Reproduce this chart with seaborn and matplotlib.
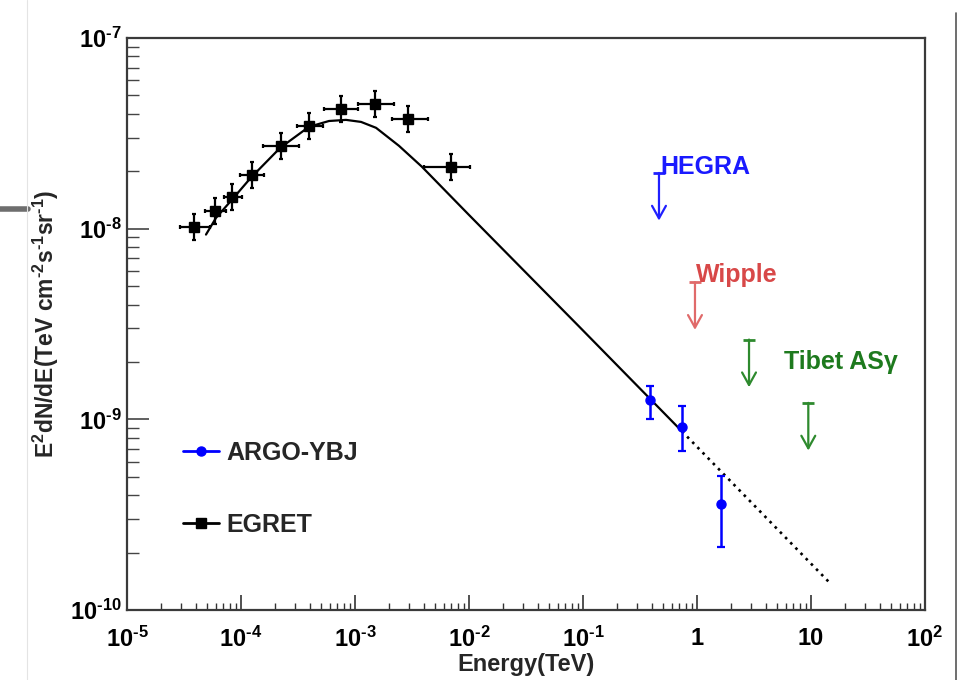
import numpy as np
import pandas as pd
import matplotlib
matplotlib.use("Agg")
import matplotlib.pyplot as plt
from matplotlib.lines import Line2D
from matplotlib.ticker import LogLocator, FixedFormatter, FixedLocator, NullFormatter
import seaborn as sns

# ---------------- data ----------------
egret_x = [3.9e-5, 5.9e-5, 8.3e-5, 1.25e-4, 2.24e-4, 3.95e-4, 7.5e-4, 1.5e-3, 2.9e-3, 6.9e-3]
egret_y = [1.02e-8, 1.24e-8, 1.47e-8, 1.92e-8, 2.72e-8, 3.46e-8, 4.25e-8, 4.5e-8, 3.77e-8, 2.11e-8]
egret_xlo = [2.92e-5, 4.79e-5, 7.1e-5, 9.8e-5, 1.56e-4, 3.10e-4, 5.35e-4, 1.06e-3, 2.11e-3, 4.03e-3]
egret_xhi = [5.35e-5, 7.46e-5, 1.02e-4, 1.59e-4, 3.23e-4, 5.24e-4, 1.06e-3, 2.20e-3, 4.37e-3, 1.02e-2]
egret_ylo = [8.7e-9, 1.06e-8, 1.26e-8, 1.64e-8, 2.32e-8, 2.96e-8, 3.63e-8, 3.85e-8, 3.22e-8, 1.80e-8]
egret_yhi = [1.19e-8, 1.45e-8, 1.72e-8, 2.25e-8, 3.18e-8, 4.05e-8, 4.97e-8, 5.27e-8, 4.41e-8, 2.47e-8]

argo_x = [0.387, 0.743, 1.62]
argo_y = [1.26e-9, 9.16e-10, 3.59e-10]
argo_ylo = [1.01e-9, 6.82e-10, 2.13e-10]
argo_yhi = [1.49e-9, 1.18e-9, 5.05e-10]

# upper limits
hegra_x, hegra_y = [0.464], [1.96e-8]
wipple_x, wipple_y = [0.96], [5.24e-9]
tibet_x, tibet_y = [2.86, 9.47], [2.62e-9, 1.22e-9]

# model curve (solid part, then dotted extrapolation)
model_x = [4.93e-5, 6.04e-5, 8.34e-5, 1.22e-4, 2.20e-4, 3.94e-4, 5.91e-4, 8.34e-4,
           1.13e-3, 1.53e-3, 2.43e-3, 3.87e-3, 1.0e-2, 9.23e-2, 0.738]
model_y = [9.31e-9, 1.14e-8, 1.42e-8, 1.85e-8, 2.65e-8, 3.42e-8, 3.67e-8, 3.72e-8,
           3.63e-8, 3.38e-8, 2.72e-8, 2.11e-8, 1.18e-8, 3.07e-9, 8.65e-10]
extrap_x = [0.738, 14.4]
extrap_y = [8.65e-10, 1.40e-10]

HY = "\u2010"
xtick_vals = [1e-5, 1e-4, 1e-3, 1e-2, 1e-1, 1, 10, 100]
xtick_labels = ["10$^{%s5}$" % HY, "10$^{%s4}$" % HY, "10$^{%s3}$" % HY, "10$^{%s2}$" % HY,
                "10$^{%s1}$" % HY, "1", "10", "10$^{2}$"]
ytick_vals = [1e-10, 1e-9, 1e-8, 1e-7]
ytick_labels = ["10$^{%s10}$" % HY, "10$^{%s9}$" % HY, "10$^{%s8}$" % HY, "10$^{%s7}$" % HY]

# ---------------- style ----------------
sns.set_theme(style="white")
plt.rcParams['font.family'] = ['Liberation Sans', 'DejaVu Sans']
plt.rcParams['font.weight'] = 'bold'
plt.rcParams['mathtext.fontset'] = 'custom'
plt.rcParams['mathtext.rm'] = 'Liberation Sans:bold'
plt.rcParams['mathtext.bf'] = 'Liberation Sans:bold'
plt.rcParams['mathtext.it'] = 'Liberation Sans:bold'
plt.rcParams['mathtext.default'] = 'bf'

W, H = 958, 680
fig = plt.figure(figsize=(W / 100, H / 100), dpi=100)
fig.patch.set_facecolor('white')
L, R, T, B = 127, 925, 38, 610
ax = fig.add_axes([L / W, 1 - B / H, (R - L) / W, (B - T) / H])
ax.set_xscale('log')
ax.set_yscale('log')
ax.set_xlim(1e-5, 1e2)
ax.set_ylim(1e-10, 1e-7)

# model curve
df_model = pd.DataFrame({'E': model_x, 'F': model_y})
df_ext = pd.DataFrame({'E': extrap_x, 'F': extrap_y})
sns.lineplot(data=df_model, x='E', y='F', ax=ax, color='black', lw=1.6, estimator=None, sort=False)
sns.lineplot(data=df_ext, x='E', y='F', ax=ax, color='black', lw=1.9, estimator=None, sort=False,
             linestyle=(0, (1.0, 1.8)))

# EGRET
ex = np.array(egret_x); ey = np.array(egret_y)
ax.errorbar(ex, ey,
            xerr=[ex - np.array(egret_xlo), np.array(egret_xhi) - ex],
            yerr=[ey - np.array(egret_ylo), np.array(egret_yhi) - ey],
            fmt='s', color='black', ms=7.5, elinewidth=1.6, capsize=1.5, capthick=1.6, zorder=5)

# ARGO-YBJ
axx = np.array(argo_x); ayy = np.array(argo_y)
ax.errorbar(axx, ayy, yerr=[ayy - np.array(argo_ylo), np.array(argo_yhi) - ayy],
            fmt='o', color='#0000ff', ms=6.5, elinewidth=1.8, capsize=3, capthick=1.6, zorder=6)

# upper limits
def upper_limits(xs, ys, color):
    for x, y in zip(xs, ys):
        tip = y * 10 ** (-0.25)
        ax.annotate('', xy=(x, tip), xytext=(x, y),
                    arrowprops=dict(arrowstyle='->,head_length=0.45,head_width=0.25',
                                    color=color, lw=1.6, mutation_scale=20,
                                    shrinkA=0, shrinkB=0))
        ax.plot([x], [y], marker='_', ms=9, mew=2, color=color)

upper_limits(hegra_x, hegra_y, '#2020ff')
upper_limits(wipple_x, wipple_y, '#e06a6a')
upper_limits(tibet_x, tibet_y, '#2e8a2e')

ax.annotate('HEGRA', xy=(hegra_x[0], hegra_y[0]), xytext=(1, 4), textcoords='offset points',
            color='#1a1aff', fontsize=18, fontweight='bold', va='center', ha='left')
ax.annotate('Wipple', xy=(wipple_x[0], wipple_y[0]), xytext=(1, 5), textcoords='offset points',
            color='#d84848', fontsize=18, fontweight='bold', va='center', ha='left')
ax.annotate('Tibet AS\u03b3', xy=(tibet_x[0], tibet_y[0]), xytext=(25, -16), textcoords='offset points',
            color='#1e7a1e', fontsize=18, fontweight='bold', va='center', ha='left')

# legend
handles = [Line2D([], [], color='#0000ff', marker='o', ms=6.5, lw=2),
           Line2D([], [], color='black', marker='s', ms=7, lw=2)]
leg = ax.legend(handles, ['ARGO-YBJ', 'EGRET'], loc='upper left',
                bbox_to_anchor=(183 / W, 1 - 441 / H), bbox_transform=fig.transFigure,
                frameon=False, fontsize=18, handlelength=1.45, handletextpad=0.3,
                labelspacing=1.9, borderpad=0, borderaxespad=0)
for t in leg.get_texts():
    t.set_fontweight('bold')

# axes/ticks
ax.xaxis.set_major_locator(FixedLocator(xtick_vals))
ax.xaxis.set_major_formatter(FixedFormatter(xtick_labels))
ax.xaxis.set_minor_locator(LogLocator(base=10, subs=np.arange(2, 10), numticks=20))
ax.xaxis.set_minor_formatter(NullFormatter())
ax.yaxis.set_major_locator(FixedLocator(ytick_vals))
ax.yaxis.set_major_formatter(FixedFormatter(ytick_labels))
ax.yaxis.set_minor_locator(LogLocator(base=10, subs=np.arange(2, 10), numticks=20))
ax.yaxis.set_minor_formatter(NullFormatter())

ax.tick_params(axis='x', which='major', direction='in', length=11, width=1.2, colors='#333333',
               labelsize=17, labelcolor='black', pad=12, top=False, bottom=True)
ax.tick_params(axis='x', which='minor', direction='in', length=5, width=1.0, colors='#333333',
               top=False, bottom=True)
ax.tick_params(axis='y', which='major', direction='in', length=16, width=1.2, colors='#444444',
               labelsize=17, labelcolor='black', pad=4, left=True, right=False)
ax.tick_params(axis='y', which='minor', direction='in', length=8.5, width=1.0, colors='#444444',
               left=True, right=False)
for lbl in ax.get_xticklabels() + ax.get_yticklabels():
    lbl.set_fontweight('bold')

for s in ax.spines.values():
    s.set_visible(True)
    s.set_color('#3a3a3a')
    s.set_linewidth(1.6)

ax.set_xlabel('Energy(TeV)', fontsize=17, fontweight='bold', labelpad=1)
ax.set_ylabel('E$^{2}$dN/dE(TeV cm$^{%s2}$s$^{%s1}$sr$^{%s1}$)' % (HY, HY, HY), fontsize=16.5,
              fontweight='bold', labelpad=6)

# screenshot decorations
fig.add_artist(Line2D([0, 28 / W], [1 - 209 / H, 1 - 209 / H], color='#6e6e6e', lw=4,
                      transform=fig.transFigure))
fig.add_artist(Line2D([27 / W, 27 / W], [0, 1], color='#e4e4e4', lw=0.8, transform=fig.transFigure))
fig.add_artist(Line2D([956 / W, 956 / W], [0, 1 - 13 / H], color='#555555', lw=1.2,
                      transform=fig.transFigure))

fig.savefig('out.png', dpi=100, facecolor='white')
